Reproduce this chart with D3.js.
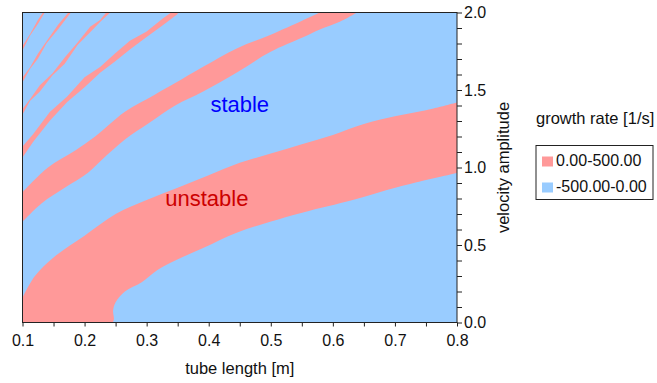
<!DOCTYPE html>
<html>
<head>
<meta charset="utf-8">
<script src="https://cdn.jsdelivr.net/npm/d3@7"></script>
<style>
  body { margin: 0; background: #fff; }
  text { font-family: "Liberation Sans", Arial, sans-serif; }
</style>
</head>
<body>
<div id="chart"></div>
<script>
// Unstable (positive growth rate) regions
// x = tube length [m], y = velocity amplitude

// Main band: upper and lower boundary
const mainUpper = [[0.100, 0.16], [0.120, 0.30], [0.150, 0.42], [0.200, 0.56], [0.250, 0.70],
    [0.300, 0.79], [0.350, 0.87], [0.400, 0.95], [0.450, 1.03], [0.500, 1.09], [0.550, 1.15],
    [0.600, 1.21], [0.650, 1.28], [0.700, 1.33], [0.750, 1.37], [0.800, 1.42]];
const mainLower = [[0.100, 0.00], [0.245, 0.00], [0.246, 0.08], [0.250, 0.13], [0.265, 0.20],
    [0.292, 0.26], [0.318, 0.34], [0.346, 0.40], [0.391, 0.48], [0.446, 0.58], [0.499, 0.65],
    [0.552, 0.71], [0.632, 0.79], [0.687, 0.855], [0.735, 0.905], [0.800, 0.965]];

// Second band
const band2Upper = [[0.100, 0.84], [0.141, 1.00], [0.185, 1.11], [0.217, 1.20], [0.265, 1.36],
    [0.313, 1.47], [0.346, 1.545], [0.391, 1.65], [0.446, 1.77], [0.499, 1.855], [0.552, 1.95],
    [0.579, 2.00]];
const band2Lower = [[0.100, 0.65], [0.131, 0.77], [0.168, 0.87], [0.205, 0.965], [0.228, 1.05],
    [0.265, 1.18], [0.305, 1.29], [0.346, 1.40], [0.391, 1.49], [0.446, 1.615], [0.499, 1.745],
    [0.552, 1.84], [0.579, 1.89], [0.611, 1.94], [0.639, 2.00]];

// Thin, ragged bands: centre line and half width
const band3Center = [[0.100, 1.10], [0.117, 1.19], [0.144, 1.33], [0.172, 1.44], [0.200, 1.55],
    [0.225, 1.63], [0.249, 1.71], [0.273, 1.79], [0.300, 1.86], [0.326, 1.94], [0.350, 2.01]];
const band3Half = [0.035, 0.025, 0.028, 0.018, 0.032, 0.018, 0.026, 0.028, 0.018, 0.022, 0.02];

const band4Center = [[0.100, 1.36], [0.112, 1.435], [0.128, 1.51], [0.148, 1.60], [0.168, 1.69],
    [0.189, 1.80], [0.209, 1.89], [0.225, 1.945], [0.240, 2.01]];
const band4Half = [0.018, 0.006, 0.02, 0.006, 0.02, 0.008, 0.018, 0.006, 0.015];

const band5Center = [[0.100, 1.565], [0.112, 1.64], [0.125, 1.72], [0.139, 1.81], [0.157, 1.905],
    [0.178, 2.01]];
const band5Half = [0.015, 0.005, 0.016, 0.006, 0.015, 0.01];

const band6Center = [[0.100, 1.77], [0.112, 1.855], [0.125, 1.94], [0.136, 2.01]];
const band6Half = [0.014, 0.005, 0.013, 0.008];

const xTicks = [0.1, 0.15, 0.2, 0.25, 0.3, 0.35, 0.4, 0.45, 0.5, 0.55, 0.6, 0.65, 0.7, 0.75, 0.8];
const yTicks = [0, 0.1, 0.2, 0.3, 0.4, 0.5, 0.6, 0.7, 0.8, 0.9, 1.0, 1.1, 1.2, 1.3, 1.4, 1.5,
    1.6, 1.7, 1.8, 1.9, 2.0];
const legendLabels = ["0.00-500.00", "-500.00-0.00"];
const legendColors = ["#ff9999", "#99ccff"];

const fullWidth = 657, fullHeight = 383;
const margin = { top: 12.5, right: 200, bottom: 60.5, left: 22.5 };
const width = 434.5, height = 310;

const svg = d3.select("#chart")
    .append("svg")
    .attr("width", fullWidth)
    .attr("height", fullHeight);

const g = svg.append("g")
    .attr("transform", "translate(" + margin.left + "," + margin.top + ")");

const x = d3.scaleLinear().domain([0.1, 0.8]).range([0, width]);
const y = d3.scaleLinear().domain([0, 2]).range([height, 0]);

g.append("clipPath").attr("id", "plot-clip")
    .append("rect").attr("width", width).attr("height", height);

// stable background
g.append("rect")
    .attr("width", width)
    .attr("height", height)
    .attr("fill", "#99ccff");

const line = d3.line().x(d => x(d[0])).y(d => y(d[1]));
const smooth = d3.line().x(d => x(d[0])).y(d => y(d[1])).curve(d3.curveCatmullRom.alpha(0.5));

// smooth boundaries for the two wide bands
function bandPath(upper, lower) {
    return smooth(upper) + smooth(lower.slice().reverse()).replace(/^M/, "L") + "Z";
}
function thinBand(center, half) {
    const up = center.map((d, i) => [d[0], d[1] + half[i]]);
    const lo = center.map((d, i) => [d[0], d[1] - half[i]]);
    // extend to the left edge
    up.unshift([0.09, up[0][1]]);
    lo.unshift([0.09, lo[0][1]]);
    return line(up.concat(lo.reverse())) + "Z";
}

const bands = [
    bandPath(mainUpper, mainLower),
    bandPath(band2Upper, band2Lower),
    thinBand(band3Center, band3Half),
    thinBand(band4Center, band4Half),
    thinBand(band5Center, band5Half),
    thinBand(band6Center, band6Half)
];

g.append("g")
    .attr("clip-path", "url(#plot-clip)")
    .selectAll("path")
    .data(bands)
    .join("path")
    .attr("d", d => d)
    .attr("fill", "#ff9999");

// region labels
g.append("text")
    .attr("x", x(0.45)).attr("y", y(1.36))
    .attr("text-anchor", "middle")
    .attr("fill", "#0000ff")
    .style("font-size", "22px")
    .text("stable");

g.append("text")
    .attr("x", x(0.397)).attr("y", y(0.75))
    .attr("text-anchor", "middle")
    .attr("fill", "#cc0000")
    .style("font-size", "22px")
    .text("unstable");

// frame
g.append("rect")
    .attr("width", width)
    .attr("height", height)
    .attr("fill", "none")
    .attr("stroke", "#222")
    .attr("stroke-width", 1);

// x axis
const xAxis = g.append("g")
    .attr("transform", `translate(0, ${height})`)
    .call(d3.axisBottom(x)
        .tickValues(xTicks)
        .tickSize(4)
        .tickPadding(8.5)
        .tickFormat(d => Math.abs(d * 10 - Math.round(d * 10)) < 1e-6 ? d3.format(".1f")(d) : ""));
xAxis.select(".domain").remove();
xAxis.selectAll("text").style("font-size", "16px").attr("fill", "#111");
xAxis.selectAll("line").attr("stroke", "#222");

// y axis on the right
const yAxis = g.append("g")
    .attr("transform", `translate(${width}, 0)`)
    .call(d3.axisRight(y)
        .tickValues(yTicks)
        .tickSize(5)
        .tickPadding(2)
        .tickFormat(d => Math.abs(d * 2 - Math.round(d * 2)) < 1e-6 ? d3.format(".1f")(d) : ""));
yAxis.select(".domain").remove();
yAxis.selectAll("text").style("font-size", "16px").attr("fill", "#111");
yAxis.selectAll("line").attr("stroke", "#222");

// axis titles
g.append("text")
    .attr("x", width / 2)
    .attr("y", height + 51)
    .attr("text-anchor", "middle")
    .style("font-size", "16.5px")
    .attr("fill", "#111")
    .text("tube length [m]");

g.append("text")
    .attr("transform", `translate(${width + 52}, ${height / 2}) rotate(-90)`)
    .attr("text-anchor", "middle")
    .style("font-size", "16.5px")
    .attr("fill", "#111")
    .text("velocity amplitude");

// legend
const legend = svg.append("g").attr("transform", "translate(536, 124)");
legend.append("text")
    .attr("x", 0).attr("y", 0)
    .style("font-size", "16.5px")
    .attr("fill", "#111")
    .text("growth rate [1/s]");

legend.append("rect")
    .attr("x", 0).attr("y", 21.5)
    .attr("width", 117).attr("height", 54)
    .attr("fill", "#fff")
    .attr("stroke", "#222");

const items = legend.selectAll(".item")
    .data(legendLabels)
    .join("g")
    .attr("class", "item")
    .attr("transform", (d, i) => `translate(6, ${32.5 + i * 26})`);

items.append("rect")
    .attr("width", 11).attr("height", 10)
    .attr("fill", (d, i) => legendColors[i]);

items.append("text")
    .attr("x", 14).attr("y", 9.5)
    .style("font-size", "16px")
    .attr("fill", "#111")
    .text(d => d);
</script>
</body>
</html>
